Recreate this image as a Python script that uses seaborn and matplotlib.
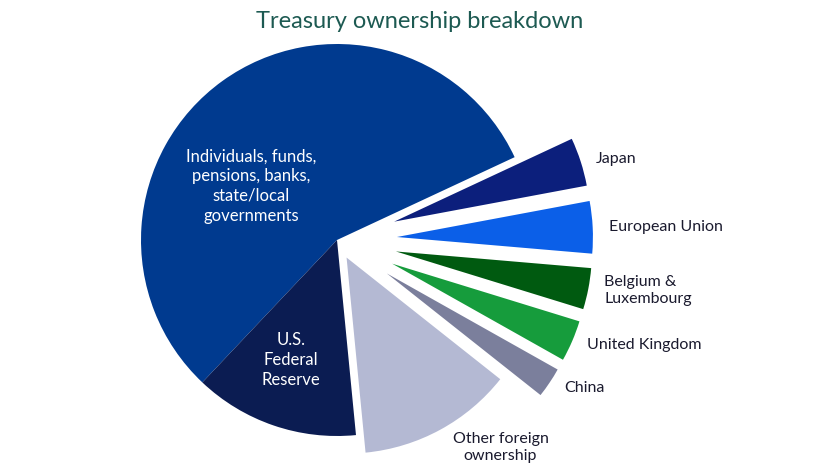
import numpy as np
import matplotlib.pyplot as plt
import seaborn as sns

sns.set_theme(style="white")
plt.rcParams['font.family'] = ['Lato', 'DejaVu Sans']

labels = ["Individuals, funds,\npensions, banks,\nstate/local\ngovernments", "U.S.\nFederal\nReserve",
          "Other foreign\nownership", "China", "United Kingdom", "Belgium &\nLuxembourg",
          "European Union", "Japan"]
shares = [56.0, 13.6, 12.8, 2.5, 3.4, 3.4, 4.3, 4.0]
explode = [0, 0, 0.1, 0.3, 0.3, 0.3, 0.3, 0.3]
colors = ["#003a8f", "#0b1c52", "#b4b9d3", "#7b7f9c", "#169c3c", "#005a10", "#0b5fe8", "#0c1f7c"]

fig = plt.figure(figsize=(8.4, 4.72), dpi=100)
ax = fig.add_axes([0, 0, 1, 1])
wedges, texts = ax.pie(shares, explode=explode, colors=colors, startangle=25,
                       counterclock=True, radius=0.98, labels=None,
                       wedgeprops=dict(linewidth=0))

for i, w in enumerate(wedges):
    mid = np.deg2rad((w.theta1 + w.theta2) / 2)
    cx, cy = w.center
    if i == 0:
        ax.text(-0.43, 0.27, labels[i], color="white", fontsize=12, ha="center", va="center",
                linespacing=1.3)
    elif i == 1:
        ax.text(-0.23, -0.6, labels[i], color="white", fontsize=12, ha="center", va="center",
                linespacing=1.3)
    elif i == 2:
        ax.text(cx + 0.77, cy - 0.95, labels[i], color="#1a1a2e", fontsize=11.5,
                ha="center", va="center", linespacing=1.3)
    else:
        x = cx + 1.03 * np.cos(mid)
        y = cy + 1.03 * np.sin(mid)
        ax.text(x + 0.03, y, labels[i], color="#1a1a2e", fontsize=11.5, ha="left", va="center",
                linespacing=1.3)

ax.set_xlim(-1.685, 2.515)
ax.set_ylim(-1.16, 1.2)
ax.set_aspect("equal")
ax.axis("off")
fig.text(0.5, 0.955, "Treasury ownership breakdown", color="#1d5a52", fontsize=17,
         ha="center", va="center")
fig.savefig("out.png", dpi=100)
